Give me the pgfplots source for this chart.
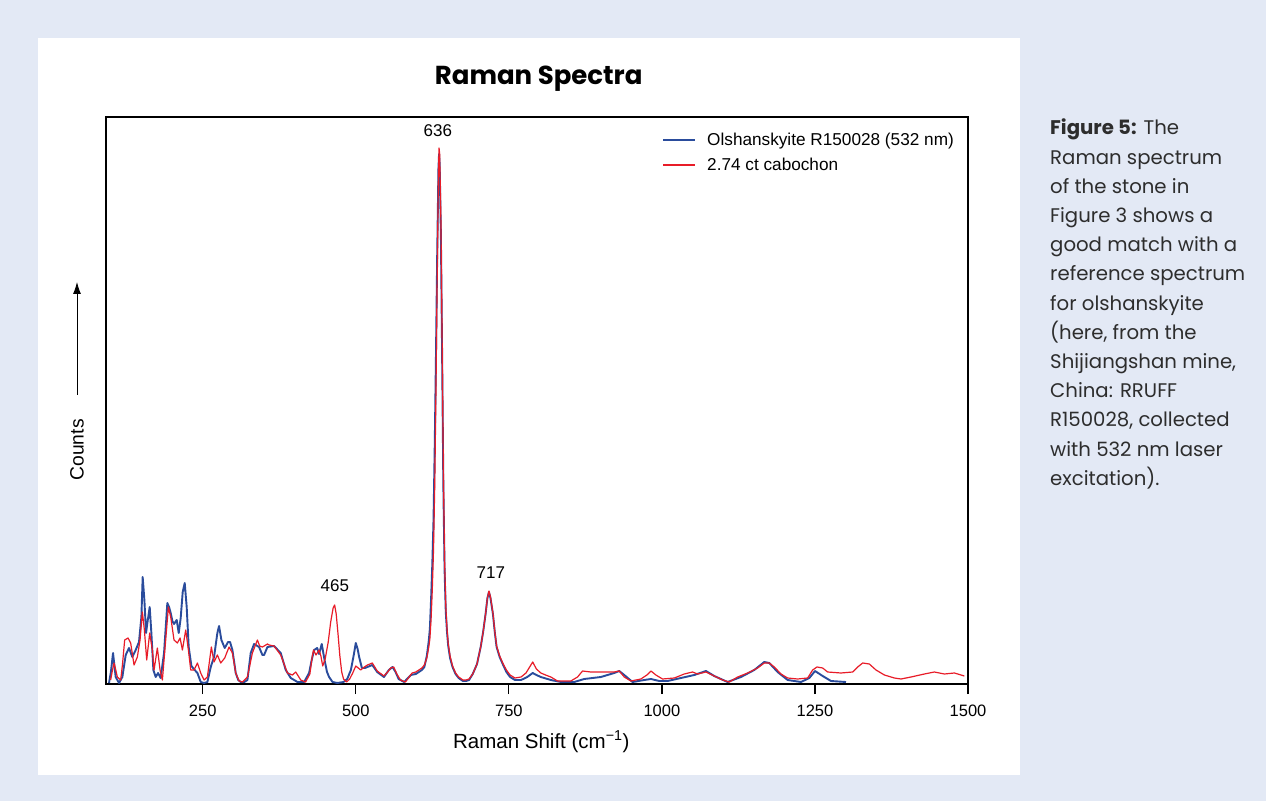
\documentclass[border=0pt]{standalone}
\usepackage{pgfplots}
\usepackage{pgfplotstable}
\pgfplotsset{compat=1.18}
\usetikzlibrary{arrows.meta}
\usepackage{fontspec}
\setmainfont{Liberation Sans}
\newfontfamily\pop{Poppins}
\definecolor{bgblue}{RGB}{227,233,245}
\definecolor{specblue}{RGB}{42,76,156}
\definecolor{specred}{RGB}{232,28,40}
\definecolor{captext}{RGB}{45,45,45}

% Olshanskyite R150028 (532 nm) -- counts in arbitrary units
\pgfplotstableread{
x y
96.9 1
100 12
103.5 31
105.5 20
107.8 7
113.3 1
118.7 7
124.2 29
129.6 36
135 27
140.5 34
145.9 42
149.8 67
151.9 107
154.7 84
157.4 51
159.6 61
163.4 77
166.1 51
169.4 14
173.2 7
177 11
181.3 6
186.8 31
192.2 81
195 77
197.7 71
200.4 63
203.1 60
207.5 64
210.8 51
214 66
217.3 92
220.6 101
223.8 77
227.1 37
231.5 18
236.9 14
241.3 11
246.7 2
252.2 1
257.6 2
263.1 17
268.5 27
273.9 51
276.7 58
280.5 44
285.9 36
291.4 42
294.6 42
298.5 34
303.9 11
308 4
312.1 2
318 2
323 4
328.4 31
333.9 40
342 37
347.5 29
350.2 29
355.7 37
366.5 38
377.4 31
385.6 14
393.8 6
404.7 2
415.6 2
423.7 11
428 24
431.9 34
437 36
440 30
444.4 40
449 24
453 12
456.4 7
462 2
470 1
480 2
486 5
492 14
497 30
500 41
503 35
505.5 27
510 16
515 16
519 17
527 19
535 12
546 7
554 14
560 17
565 12
570 5
579 2
590 9
598 10
603 12
608 14
612 17
616 28
619 42
621 55
623 85
625 120
627 165
629 240
631 330
633 430
635 515
636 530
637 520
639 450
641 330
643 200
645 115
647 72
649 52
651 38
654 26
658 17
663 10
668 6
675 3
680 3
685 4
691 10
698 20
704 37
708 52
712 70
715 86
717.5 92
720 86
724 70
727 52
730 37
735 27
740 20
746 12
752 7
760 4
770 4
780 7
789 11
795 9
802.3 7
818.6 4
835 2
856.8 2
873.1 5
900.3 7
922.1 11
930.3 13
938.5 9
952.1 2
971.2 4
982.1 5
995.7 3
1009.3 3
1031.1 6
1052.9 9
1071.9 13
1085.5 8
1107.3 2
1129.1 7
1150.9 14
1167.2 22
1175.4 21
1189 12
1205.4 4
1227.2 2
1240.8 6
1250.1 13
1262.6 8
1276.2 3
1300.7 2
}\bluedata

% 2.74 ct cabochon -- counts in arbitrary units
\pgfplotstableread{
x y
99.6 4
102 12
105.1 21
108 14
110.5 7
116 4
119 20
122.5 44
128 46
132.3 41
137.8 19
143.2 27
147.6 44
151.4 72
154.7 54
158.5 24
163.4 51
167.7 34
170.5 14
175.9 36
180.3 14
184.1 4
189.5 44
193.9 77
197.7 67
203.1 44
208.6 41
213 46
216.8 34
222.2 54
226.6 34
230.4 14
235.8 14
241.3 21
246.7 11
252.2 4
257.6 7
264.1 37
268.5 22
273.9 29
279.4 21
285.9 26
293 37
298.5 31
303.9 11
309.4 3
315 2
323 7
331.1 31
339.3 44
343 38
347.5 37
355.7 40
358.4 39
366.5 38
377.4 29
388.3 11
396.5 9
401.9 12
410.1 4
418 2
425 10
429 28
431 34
435 29
440 34
443 28
446 18
450 25
455 42
459 62
463 76
465.5 79
468 70
471 50
474 28
477 12
480 5
485 2
490 5
495 11
500 18
504 16
508 14
514 17
519 19
527 21
535 13
546 8
552 12
557 16
562 17
567 10
573 4
581 2
592 11
598 12
603 14
608 16
612 19
616 26
619 36
621 45
623 65
625 95
627 135
629 200
631 295
633 410
635 510
636 536
637 530
639 465
641 345
643 215
645 125
647 78
649 55
651 40
654 28
658 18
663 11
668 7
675 4
680 4
685 5
691 10
698 20
704 37
708 52
712 70
715 86
717.5 93
720 87
724 71
727 53
730 38
735 28
740 21
746 14
752 9
760 6
770 7
778 11
783 16
789 22
795 15
802.3 11
810 9
818.6 7
829.5 3
851.3 3
862.2 7
870.4 13
884 12
911.2 12
922.1 12
930.3 13
938.5 7
949.4 3
965.7 5
975.5 9
982.1 13
990.2 9
1001.1 5
1020.2 6
1036.5 10
1050.1 12
1058.3 10
1071.9 12
1085.5 8
1099.2 4
1110 2
1123.7 7
1140 11
1156.4 16
1167.2 21
1175.4 21
1183.6 17
1194.5 10
1205.4 6
1221.7 5
1238.1 6
1246.2 14
1253.3 17
1262.6 16
1270.7 12
1292.5 11
1311.6 12
1319.8 17
1328 21
1338.8 20
1349.7 14
1363.4 9
1379.7 6
1390.6 5
1406.9 7
1428.7 10
1445 12
1461.4 10
1477.7 11
1494 8
}\reddata

\begin{document}
\begin{tikzpicture}[x=1pt,y=1pt]
\useasboundingbox (0,0) rectangle (1266,801);
\fill[bgblue] (0,0) rectangle (1266,801);
\fill[white] (38,26) rectangle (1020,763);
\begin{axis}[
  at={(106pt,117pt)}, anchor=south west,
  scale only axis, width=862pt, height=567pt,
  xmin=92, xmax=1500, ymin=0, ymax=567,
  xtick={250,500,750,1000,1250,1500},
  xticklabels={250,500,750,1000,1250,1500},
  ytick=\empty,
  xtick pos=left,
  xtick align=outside,
  major tick length=10pt,
  tick style={black, line width=1.3pt},
  axis line style={black, line width=1.8pt},
  xticklabel style={font=\fontsize{16.5}{19}\selectfont, yshift=-7pt},
  title={\pop\bfseries Raman Spectra},
  title style={font=\fontsize{26}{30}\selectfont, at={(axis description cs:0.502,1.0476)}, anchor=base},
  xlabel={Raman Shift (cm\textsuperscript{−1})},
  xlabel style={font=\fontsize{20.5}{24}\selectfont, at={(axis description cs:0.505,-0.113)}, anchor=base},
  ylabel={Counts},
  ylabel style={font=\fontsize{19.3}{22}\selectfont, at={(axis description cs:-0.0336,0.413)}, anchor=center, rotate=0},
  legend style={draw=none, fill=none, at={(axis description cs:0.645,0.975)}, anchor=north west,
    font=\fontsize{17.2}{20}\selectfont, row sep=7pt, inner sep=0pt,
    cells={anchor=west}},
  legend image code/.code={\draw[#1, line width=2pt] (0pt,0pt) -- (32pt,0pt); \path[draw=none] (0pt,0pt) -- (42pt,0pt);},
  clip=true,
]
\addplot[specblue, line width=1.9pt, line join=round] table[x=x,y=y] {\bluedata};
\addlegendentry{Olshanskyite R150028 (532 nm)}
\addplot[specred, line width=1.2pt, line join=round] table[x=x,y=y] {\reddata};
\addlegendentry{2.74 ct cabochon}
\node[font=\fontsize{17}{20}\selectfont] at (axis cs:634,553) {636};
\node[font=\fontsize{17}{20}\selectfont] at (axis cs:465.7,98) {465};
\node[font=\fontsize{17}{20}\selectfont] at (axis cs:720.6,111) {717};
\end{axis}
% arrow beside the y label
\draw[black, line width=0.9pt, -{Latex[length=12pt,width=8pt]}] (77,406) -- (77,519);
% caption
\begin{scope}[every node/.style={anchor=base west, inner sep=0pt, text=captext, font=\pop\fontsize{19.7}{24}\selectfont}]
\node at (1050,666.0) {\textbf{Figure 5:} The};
\node at (1050,636.8) {Raman spectrum};
\node at (1050,607.6) {of the stone in};
\node at (1050,578.4) {Figure 3 shows a};
\node at (1050,549.2) {good match with a};
\node at (1050,520.0) {reference spectrum};
\node at (1050,490.8) {for olshanskyite};
\node at (1050,461.6) {(here, from the};
\node at (1050,432.4) {Shijiangshan mine,};
\node at (1050,403.2) {China: RRUFF};
\node at (1050,374.0) {R150028, collected};
\node at (1050,344.8) {with 532 nm laser};
\node at (1050,315.6) {excitation).};
\end{scope}
\end{tikzpicture}
\end{document}
